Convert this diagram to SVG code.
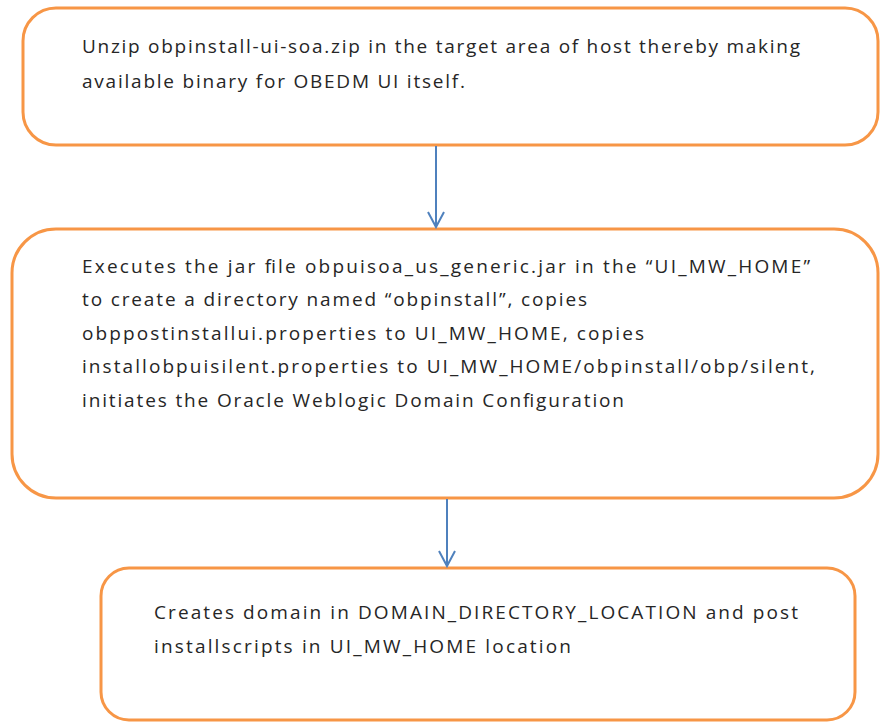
<svg xmlns="http://www.w3.org/2000/svg" width="880" height="723" viewBox="0 0 880 723">
<defs>
<style>
.box{fill:#ffffff;stroke:#F79646;stroke-width:3}
.t{font-family:"Open Sans","Liberation Sans",sans-serif;font-size:19px;fill:#262626}
.conn{stroke:#4F81BD;stroke-width:2;fill:none}
</style>
<marker id="arr" markerUnits="userSpaceOnUse" orient="auto" refX="0" refY="0" markerWidth="30" markerHeight="30" viewBox="-20 -15 30 30" overflow="visible">
<path d="M-15,-8 L0,0 L-15,8" fill="none" stroke="#4F81BD" stroke-width="2"/>
</marker>
</defs>
<rect width="880" height="723" fill="#ffffff"/>
<g id="node1">
<rect class="box" x="23" y="8" width="855" height="137" rx="33" ry="33"/>
<text class="t" x="82" y="53" textLength="718">Unzip obpinstall-ui-soa.zip in the target area of host thereby making</text>
<text class="t" x="82" y="88" textLength="383">available binary for OBEDM UI itself.</text>
</g>
<g id="node2">
<rect class="box" x="12" y="229" width="866" height="269" rx="44" ry="44"/>
<text class="t" x="82" y="273" textLength="728">Executes the jar file obpuisoa_us_generic.jar in the “UI_MW_HOME”</text>
<text class="t" x="82" y="306" textLength="505">to create a directory named “obpinstall”, copies</text>
<text class="t" x="82" y="340" textLength="562">obppostinstallui.properties to UI_MW_HOME, copies</text>
<text class="t" x="82" y="373" textLength="733">installobpuisilent.properties to UI_MW_HOME/obpinstall/obp/silent,</text>
<text class="t" x="82" y="407" textLength="542">initiates the Oracle Weblogic Domain Configuration</text>
</g>
<g id="node3">
<rect class="box" x="101" y="568" width="754" height="152" rx="28" ry="28"/>
<text class="t" x="154" y="619" textLength="644">Creates domain in DOMAIN_DIRECTORY_LOCATION and post</text>
<text class="t" x="154" y="653" textLength="417">installscripts in UI_MW_HOME location</text>
</g>
<g id="connectors">
<line class="conn" x1="436" y1="146" x2="436" y2="227" marker-end="url(#arr)"/>
<line class="conn" x1="447" y1="499" x2="447" y2="566" marker-end="url(#arr)"/>
</g>
</svg>
